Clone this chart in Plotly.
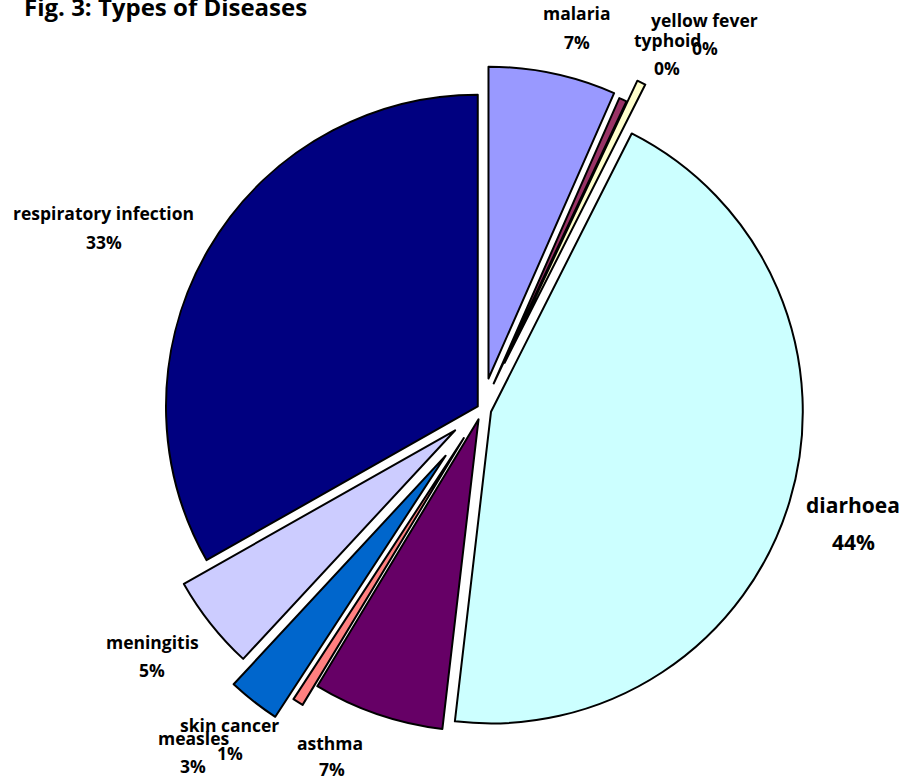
import plotly.graph_objects as go

# ---- data ----
categories = ["malaria", "typhoid", "yellow fever", "diarhoea", "asthma",
              "skin cancer", "measles", "meningitis", "respiratory infection"]
values = [6.6, 0.4, 0.45, 44.4, 6.8, 0.55, 2.7, 4.9, 33.2]
colors = ["#9999FF", "#993366", "#FFFFCC", "#CCFFFF", "#660066",
          "#FF8080", "#0066CC", "#CCCCFF", "#000080"]
pulls = [0.10, 0.09, 0.165, 0.03, 0.035, 0.11, 0.19, 0.11, 0.016]
title_text = "Fig. 3: Types of Diseases"

# label placement (pixel centres of name line and percent line)
label_pos = {
    "malaria": (577, 13, 577, 42),
    "typhoid": (667, 40, 667, 68),
    "yellow fever": (704, 20, 705, 48),
    "diarhoea": (853, 505, 853, 542),
    "asthma": (330, 743, 332, 769),
    "skin cancer": (230, 725, 230, 753),
    "measles": (193, 738, 193, 766),
    "meningitis": (152, 642, 152, 670),
    "respiratory infection": (103, 213, 104, 242),
}

W, H = 907, 780
MT, MB = 38, 0
PH = H - MT - MB


def px_x(x):
    return x / W


def px_y(y):
    return (H - MB - y) / PH


FONT = "Open Sans"
total = sum(values)

fig = go.Figure(go.Pie(
    labels=categories,
    values=values,
    sort=False,
    direction="clockwise",
    rotation=0,
    pull=pulls,
    marker=dict(colors=colors, line=dict(color="black", width=2)),
    textinfo="none",
    hoverinfo="label+percent",
    showlegend=False,
    domain=dict(x=[0.118, 0.945], y=[0, 1]),
))

annotations = []
for cat, v in zip(categories, values):
    x1, y1, x2, y2 = label_pos[cat]
    size = 21 if cat == "diarhoea" else 17.5
    pct = f"{round(100 * v / total):d}%"
    annotations.append(dict(x=px_x(x1), y=px_y(y1), xref="paper", yref="paper",
                            text=f"<b>{cat}</b>", showarrow=False,
                            xanchor="center", yanchor="middle",
                            font=dict(family=FONT, size=size, color="black")))
    annotations.append(dict(x=px_x(x2), y=px_y(y2), xref="paper", yref="paper",
                            text=f"<b>{pct}</b>", showarrow=False,
                            xanchor="center", yanchor="middle",
                            font=dict(family=FONT, size=size, color="black")))

annotations.append(dict(x=px_x(22), y=px_y(7), xref="paper", yref="paper",
                        text=f"<b>{title_text}</b>", showarrow=False,
                        xanchor="left", yanchor="middle",
                        font=dict(family=FONT, size=24, color="black")))

fig.update_layout(
    width=W, height=H,
    margin=dict(l=0, r=0, t=MT, b=MB),
    paper_bgcolor="white", plot_bgcolor="white",
    annotations=annotations,
)

fig.write_html("out.html")
